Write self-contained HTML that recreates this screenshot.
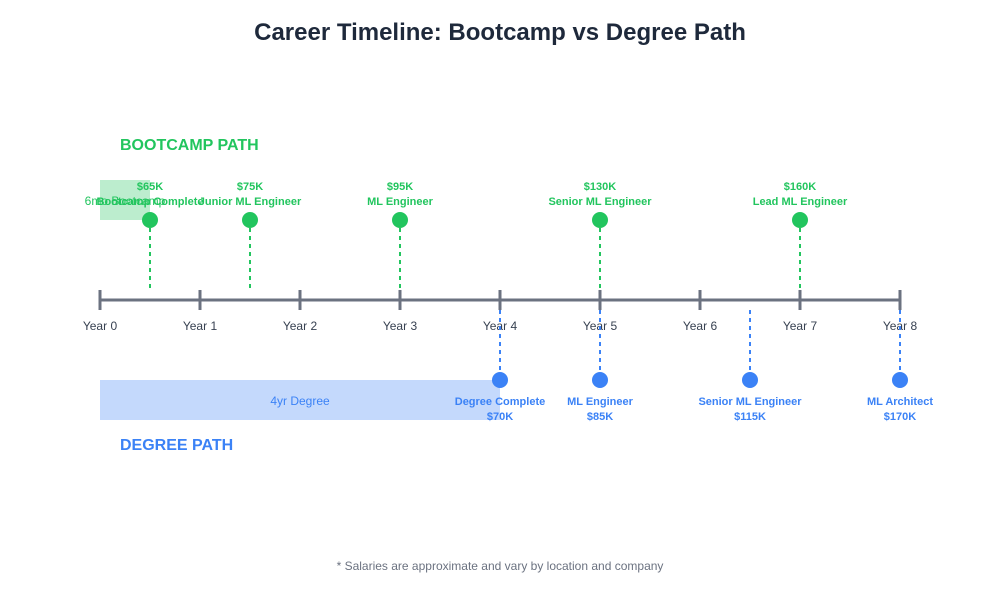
<!DOCTYPE html>
<html><head><meta charset="utf-8"><style>
html,body{margin:0;padding:0;background:#fff;}
svg{display:block;font-family:"Liberation Sans",Arial,sans-serif;}
</style></head><body>
<svg width="1000" height="600" viewBox="0 0 1000 600" xmlns="http://www.w3.org/2000/svg">
<rect width="1000" height="600" fill="#fff"/>
<text x="500" y="40" text-anchor="middle" font-size="24" font-weight="bold" fill="#1e293b">Career Timeline: Bootcamp vs Degree Path</text>
<text x="120" y="150" font-size="16" font-weight="bold" fill="#22c55e">BOOTCAMP PATH</text>
<text x="120" y="450" font-size="16" font-weight="bold" fill="#3b82f6">DEGREE PATH</text>

<rect x="100" y="180" width="50" height="40" fill="#22c55e" opacity="0.3"/>
<text x="125" y="205" text-anchor="middle" font-size="12" fill="#22c55e">6mo Bootcamp</text>
<rect x="100" y="380" width="400" height="40" fill="#3b82f6" opacity="0.3"/>
<text x="300" y="405" text-anchor="middle" font-size="12" fill="#3b82f6">4yr Degree</text>

<g stroke="#6b7280" stroke-width="3">
<line x1="100" y1="300" x2="900" y2="300"/>
<line x1="100" y1="290" x2="100" y2="310"/><line x1="200" y1="290" x2="200" y2="310"/>
<line x1="300" y1="290" x2="300" y2="310"/><line x1="400" y1="290" x2="400" y2="310"/>
<line x1="500" y1="290" x2="500" y2="310"/><line x1="600" y1="290" x2="600" y2="310"/>
<line x1="700" y1="290" x2="700" y2="310"/><line x1="800" y1="290" x2="800" y2="310"/>
<line x1="900" y1="290" x2="900" y2="310"/>
</g>
<g font-size="12" fill="#374151" text-anchor="middle">
<text x="100" y="330">Year 0</text><text x="200" y="330">Year 1</text><text x="300" y="330">Year 2</text>
<text x="400" y="330">Year 3</text><text x="500" y="330">Year 4</text><text x="600" y="330">Year 5</text>
<text x="700" y="330">Year 6</text><text x="800" y="330">Year 7</text><text x="900" y="330">Year 8</text>
</g>

<g stroke="#22c55e" stroke-width="2" stroke-dasharray="4,4">
<line x1="150" y1="228" x2="150" y2="290"/><line x1="250" y1="228" x2="250" y2="290"/>
<line x1="400" y1="228" x2="400" y2="290"/><line x1="600" y1="228" x2="600" y2="290"/>
<line x1="800" y1="228" x2="800" y2="290"/>
</g>
<g fill="#22c55e">
<circle cx="150" cy="220" r="8"/><circle cx="250" cy="220" r="8"/><circle cx="400" cy="220" r="8"/>
<circle cx="600" cy="220" r="8"/><circle cx="800" cy="220" r="8"/>
</g>
<g font-size="11" font-weight="bold" fill="#22c55e" text-anchor="middle">
<text x="150" y="190">$65K</text><text x="150" y="205">Bootcamp Complete</text>
<text x="250" y="190">$75K</text><text x="250" y="205">Junior ML Engineer</text>
<text x="400" y="190">$95K</text><text x="400" y="205">ML Engineer</text>
<text x="600" y="190">$130K</text><text x="600" y="205">Senior ML Engineer</text>
<text x="800" y="190">$160K</text><text x="800" y="205">Lead ML Engineer</text>
</g>

<g stroke="#3b82f6" stroke-width="2" stroke-dasharray="4,4">
<line x1="500" y1="310" x2="500" y2="372"/><line x1="600" y1="310" x2="600" y2="372"/>
<line x1="750" y1="310" x2="750" y2="372"/><line x1="900" y1="310" x2="900" y2="372"/>
</g>
<g fill="#3b82f6">
<circle cx="500" cy="380" r="8"/><circle cx="600" cy="380" r="8"/>
<circle cx="750" cy="380" r="8"/><circle cx="900" cy="380" r="8"/>
</g>
<g font-size="11" font-weight="bold" fill="#3b82f6" text-anchor="middle">
<text x="500" y="405">Degree Complete</text><text x="500" y="420">$70K</text>
<text x="600" y="405">ML Engineer</text><text x="600" y="420">$85K</text>
<text x="750" y="405">Senior ML Engineer</text><text x="750" y="420">$115K</text>
<text x="900" y="405">ML Architect</text><text x="900" y="420">$170K</text>
</g>

<text x="500" y="570" text-anchor="middle" font-size="12" fill="#6b7280">* Salaries are approximate and vary by location and company</text>
</svg>
</body></html>
